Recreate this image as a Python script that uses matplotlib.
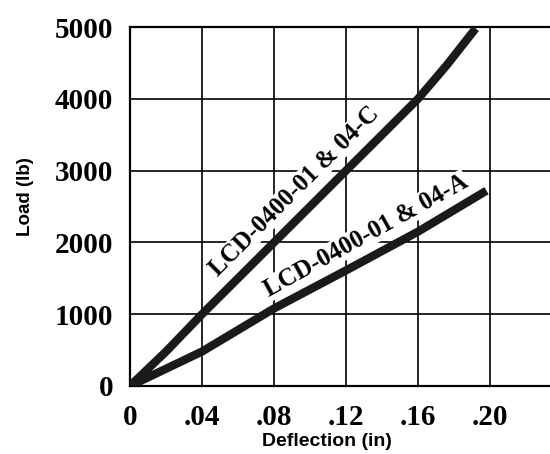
import numpy as np
import matplotlib
matplotlib.use('Agg')
import matplotlib.pyplot as plt

# values
defl_c = [0.0, 0.02, 0.04, 0.08, 0.12, 0.16, 0.176, 0.192]
load_c = [0, 480, 1000, 2000, 3000, 4000, 4470, 4980]
defl_a = [0.0, 0.04, 0.08, 0.12, 0.16, 0.198]
load_a = [0, 480, 1080, 1610, 2150, 2720]
xticks = [0, 0.04, 0.08, 0.12, 0.16, 0.20]
xtick_labels = ['0', '.04', '.08', '.12', '.16', '.20']
yticks = [0, 1000, 2000, 3000, 4000, 5000]
label_c = 'LCD-0400-01 & 04-C'
label_a = 'LCD-0400-01 & 04-A'

serif = 'Liberation Serif'
sans = 'Liberation Sans'

fig = plt.figure(figsize=(5.5, 4.54), dpi=100)
ax = fig.add_axes([130/550, 1 - 386/454, 420/550, (386 - 27)/454])

ax.set_xlim(0, 0.2333)
ax.set_ylim(0, 5000)
ax.set_xticks(xticks)
ax.set_xticklabels(xtick_labels)
ax.set_yticks(yticks)

ax.grid(True, color='black', linewidth=1.2)
ax.set_axisbelow(True)
for s in ['left', 'top', 'bottom']:
    ax.spines[s].set_linewidth(1.6)
ax.spines['right'].set_visible(False)
ax.tick_params(axis='x', length=0, pad=13)
ax.tick_params(axis='y', length=0, pad=12)
for lab in ax.get_xticklabels() + ax.get_yticklabels():
    lab.set_fontfamily(serif)
    lab.set_fontweight('bold')
    lab.set_fontsize(21)

ax.plot(defl_c, load_c, color='#1a1a1a', linewidth=6, solid_capstyle='butt', zorder=3)
ax.plot(defl_a, load_a, color='#1a1a1a', linewidth=6, solid_capstyle='butt', zorder=3)

box = dict(facecolor='white', edgecolor='none', pad=0.5)
ax.text(0.0911, 2708, label_c, rotation=45, ha='center', va='center',
        rotation_mode='anchor', fontfamily=serif, fontweight='bold',
        fontsize=18, bbox=box, zorder=2)
ax.text(0.131, 2097, label_a, rotation=29, ha='center', va='center',
        rotation_mode='anchor', fontfamily=serif, fontweight='bold',
        fontsize=18, bbox=box, zorder=2)

ax.set_xlabel('Deflection (in)', fontfamily=sans, fontweight='bold', fontsize=14)
ax.set_ylabel('Load (lb)', fontfamily=sans, fontweight='bold', fontsize=13.5)
ax.xaxis.set_label_coords(0.47, -0.132)
ax.yaxis.set_label_coords(-0.228, 0.529)

fig.savefig('out.png', dpi=100)
